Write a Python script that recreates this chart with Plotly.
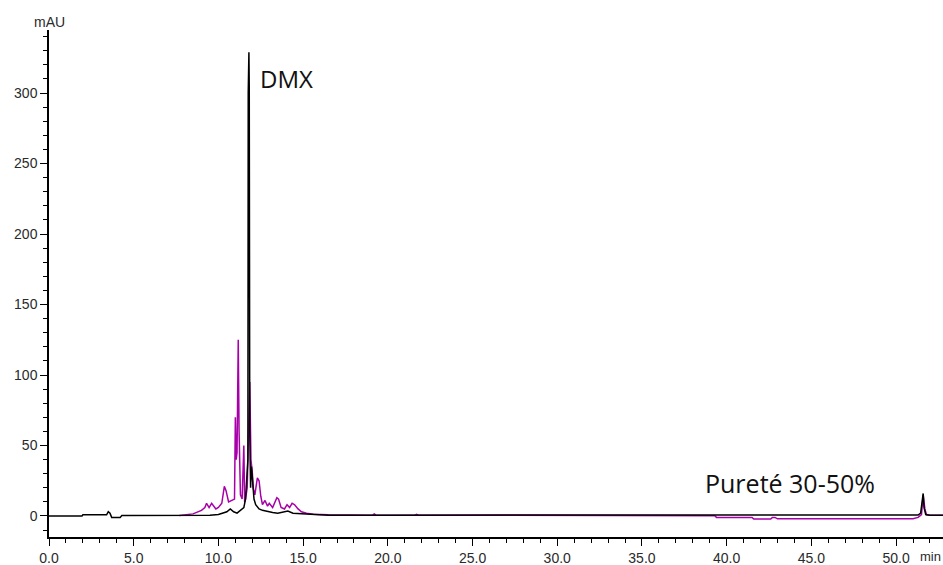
import plotly.graph_objects as go

# Black trace (retention time in min, absorbance in mAU)
black_t = [0, 1.95, 2.0, 3.4, 3.5, 3.6, 3.7, 4.2, 4.3, 6.0, 8.0, 9.5, 10.0, 10.3, 10.5, 10.7,
           10.9, 11.1, 11.3, 11.5, 11.6, 11.7, 11.74, 11.76, 11.8, 11.82, 11.85, 11.9, 11.95,
           12.0, 12.1, 12.2, 12.4, 12.6, 12.9, 13.2, 13.5, 13.8, 14.1, 14.4, 14.7, 15.0, 15.5,
           16.5, 20, 30, 40, 51.3, 51.45, 51.55, 51.6, 51.65, 51.75, 52.0, 52.8]
black_v = [0, 0, 0.8, 0.8, 3, 2, -1, -1, 0.3, 0.3, 0.5, 0.6, 1, 2, 3, 5,
           3, 2, 4, 6, 12, 30, 40, 300, 329, 305, 60, 20, 35,
           28, 12, 8, 5, 4, 3, 2.5, 2, 3, 3.5, 2, 1.8, 1.2, 0.8,
           0.6, 0.6, 0.6, 0.6, 0.7, 2, 14, 16, 6, 1, 0.6, 0.6]

# Magenta trace
mag_t = [7.7, 8.0, 8.5, 9.0, 9.2, 9.3, 9.45, 9.6, 9.7, 9.85, 10.0, 10.2, 10.35, 10.45, 10.6,
         10.8, 10.95, 11.0, 11.05, 11.1, 11.17, 11.22, 11.3, 11.4, 11.5, 11.55, 11.6, 11.7,
         11.8, 11.85, 11.92, 12.0, 12.05, 12.15, 12.3, 12.4, 12.5, 12.6, 12.75, 12.9, 13.0,
         13.2, 13.45, 13.55, 13.7, 13.9, 14.05, 14.2, 14.35, 14.5, 14.7, 14.9, 15.2, 15.6,
         16.5, 17.5, 17.6, 19.1, 19.2, 19.3, 21.6, 21.7, 21.8, 37.5, 37.6, 39.3, 39.4, 41.5,
         41.6, 41.8, 42.6, 42.7, 42.85, 43.0, 51.0, 51.3, 51.5, 51.6, 51.7, 51.8, 52.0, 52.8]
mag_v = [0.3, 0.8, 1.5, 4, 6, 9, 6, 9, 7, 5, 6, 9, 21, 18, 10,
         11, 12, 70, 40, 45, 125, 60, 15, 12, 50, 10, 12, 20,
         90, 95, 40, 31, 20, 15, 27, 25, 14, 8, 11, 7, 9,
         6, 13, 12, 6, 5, 8, 6, 9, 8, 5, 3, 2, 1.2,
         0.8, 0.6, 0.6, 0.6, 1.5, 0.6, 0.6, 1.2, 0.6, 0.6, 0.2, 0.2, -1, -1,
         -2.2, -2.2, -2.2, -1, -1, -2, -2, -1, 1, 15, 5, 0.8, 0.6, 0.6]

x_ticks = [0, 5, 10, 15, 20, 25, 30, 35, 40, 45, 50]
x_tick_labels = ["0.0", "5.0", "10.0", "15.0", "20.0", "25.0", "30.0", "35.0", "40.0", "45.0", "50.0"]
y_ticks = [0, 50, 100, 150, 200, 250, 300]

fig = go.Figure()
fig.add_trace(go.Scatter(x=mag_t, y=mag_v, mode="lines",
                         line=dict(color="#a800a8", width=1.5), showlegend=False))
fig.add_trace(go.Scatter(x=black_t, y=black_v, mode="lines",
                         line=dict(color="#000000", width=1.5), showlegend=False))

tick_font = dict(family="Liberation Sans, Arial, sans-serif", size=14, color="#2a2a2a")

fig.update_layout(
    width=943, height=565,
    margin=dict(l=49, r=0, t=30, b=28),
    paper_bgcolor="white", plot_bgcolor="white",
    xaxis=dict(range=[0, 52.77], showgrid=False, zeroline=False,
               showline=True, linecolor="black", linewidth=1.5,
               tickmode="array", tickvals=x_ticks, ticktext=x_tick_labels,
               ticks="outside", ticklen=7, tickwidth=1.2, tickcolor="black",
               minor=dict(dtick=1, ticks="outside", ticklen=4, tickwidth=1, tickcolor="black"),
               tickfont=tick_font),
    yaxis=dict(range=[-14.9, 344.7], showgrid=False, zeroline=False,
               showline=True, linecolor="black", linewidth=1.5,
               tickmode="array", tickvals=y_ticks,
               ticks="outside", ticklen=7, tickwidth=1.2, tickcolor="black",
               minor=dict(dtick=10, ticks="outside", ticklen=4, tickwidth=1, tickcolor="black"),
               tickfont=tick_font),
)

fig.add_annotation(text="mAU", xref="paper", yref="paper", x=0, y=1.016,
                   xanchor="center", yanchor="middle", showarrow=False, font=tick_font)
fig.add_annotation(text="min", xref="paper", yref="paper", x=1.0, y=-0.039,
                   xanchor="right", yanchor="middle", showarrow=False,
                   font=dict(family="Liberation Sans, Arial, sans-serif", size=13, color="#2a2a2a"))
fig.add_annotation(text="DMX", xref="x", yref="y", x=12.35, y=310,
                   xanchor="left", yanchor="middle", showarrow=False,
                   font=dict(family="Open Sans, sans-serif", size=24, color="#111111"))
fig.add_annotation(text="Pureté 30-50%", xref="x", yref="y", x=38.6, y=23.4,
                   xanchor="left", yanchor="middle", showarrow=False,
                   font=dict(family="Open Sans, sans-serif", size=25, color="#111111"))

fig.write_html("out.html")
